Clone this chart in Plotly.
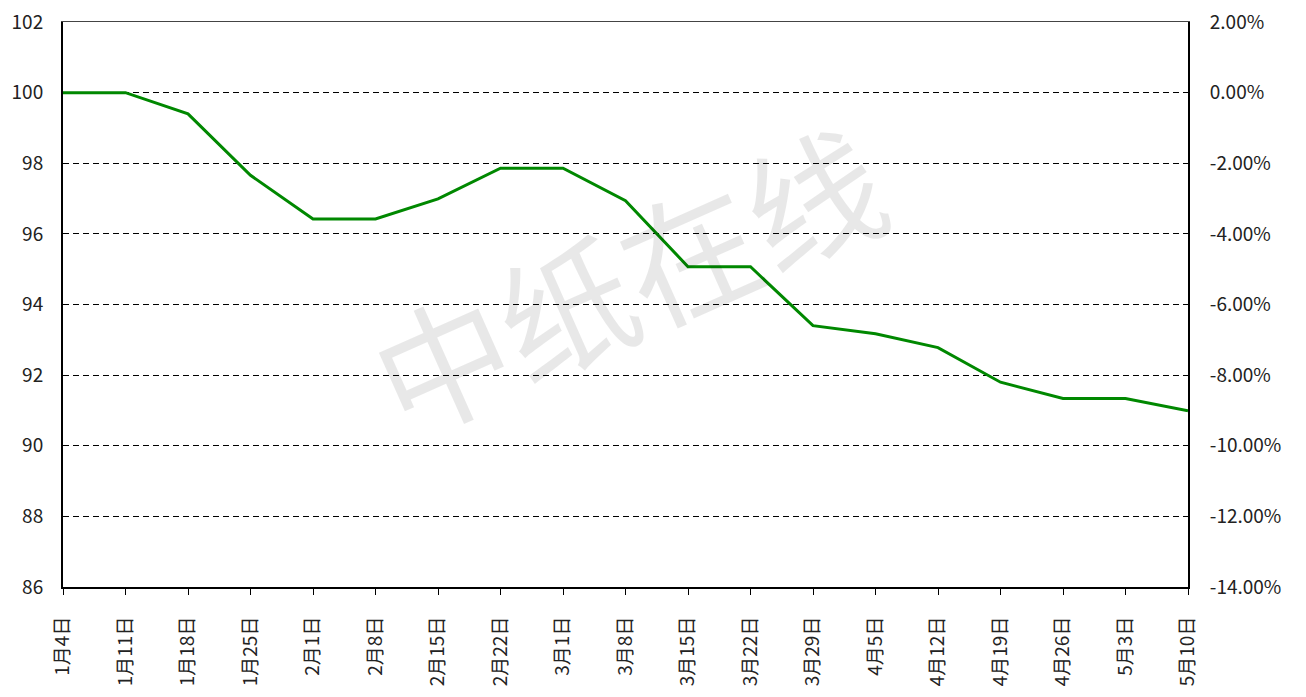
import plotly.graph_objects as go

categories = ["1月4日", "1月11日", "1月18日", "1月25日", "2月1日", "2月8日", "2月15日",
              "2月22日", "3月1日", "3月8日", "3月15日", "3月22日", "3月29日", "4月5日",
              "4月12日", "4月19日", "4月26日", "5月3日", "5月10日"]
index_values = [100.0, 100.0, 99.4, 97.66, 96.42, 96.42, 96.99, 97.86, 97.86, 96.94,
                95.07, 95.07, 93.40, 93.17, 92.78, 91.80, 91.34, 91.34, 90.99]
left_ticks = [86, 88, 90, 92, 94, 96, 98, 100, 102]
right_ticks = [-0.14, -0.12, -0.10, -0.08, -0.06, -0.04, -0.02, 0.0, 0.02]
watermark = "中纸在线"

x = list(range(len(categories)))
pct = [v / 100.0 - 1.0 for v in index_values]

font_family = "Noto Sans CJK SC, DejaVu Sans, sans-serif"

fig = go.Figure()
fig.add_trace(go.Scatter(
    x=x, y=index_values, mode="lines",
    line=dict(color="#008800", width=3),
    hoverinfo="x+y", showlegend=False,
))
fig.add_trace(go.Scatter(
    x=x, y=pct, mode="lines", xaxis="x2", yaxis="y2",
    line=dict(color="rgba(0,0,0,0)", width=0),
    hoverinfo="skip", showlegend=False,
))

fig.add_annotation(
    x=0.5, y=0.55, xref="paper", yref="paper",
    text=watermark, showarrow=False, textangle=-24,
    font=dict(size=135, color="rgba(0,0,0,0.09)", family=font_family),
)

fig.update_layout(
    width=1298, height=689,
    margin=dict(l=55, r=118, t=14, b=110),
    paper_bgcolor="white", plot_bgcolor="white",
    font=dict(family=font_family, size=18, color="#222222"),
    xaxis=dict(
        range=[0, len(categories) - 1], automargin=False,
        tickmode="array", tickvals=x, ticktext=categories,
        tickangle=-90, ticks="outside", ticklen=6, tickcolor="black", tickwidth=1,
        ticklabelstandoff=14, ticklabeloverflow="allow",
        showgrid=False, showline=True, linecolor="black", linewidth=2,
        mirror=False, zeroline=False,
        tickfont=dict(size=19, color="#222222"),
    ),
    xaxis2=dict(
        range=[0, len(categories) - 1], overlaying="x", side="top",
        showline=True, linecolor="#444444", linewidth=1,
        showticklabels=False, ticks="", showgrid=False, zeroline=False,
        automargin=False,
    ),
    yaxis=dict(
        range=[86, 102], automargin=False, tickmode="array", tickvals=left_ticks,
        ticktext=[str(t) for t in left_ticks],
        showgrid=True, gridcolor="black", griddash="6px,4px", gridwidth=1,
        showline=True, linecolor="black", linewidth=2, zeroline=False,
        ticks="", ticklabelstandoff=14, ticklabeloverflow="allow",
        tickfont=dict(size=19, color="#222222"),
    ),
    yaxis2=dict(
        range=[-0.14, 0.02], automargin=False, overlaying="y", side="right",
        tickmode="array", tickvals=right_ticks,
        ticktext=[f"{t*100:.2f}%" for t in right_ticks],
        showgrid=False, showline=True, linecolor="black", linewidth=2,
        zeroline=False, ticks="", ticklabelstandoff=16, ticklabeloverflow="allow",
        tickfont=dict(size=19, color="#222222"),
    ),
)

fig.write_html("out.html")
